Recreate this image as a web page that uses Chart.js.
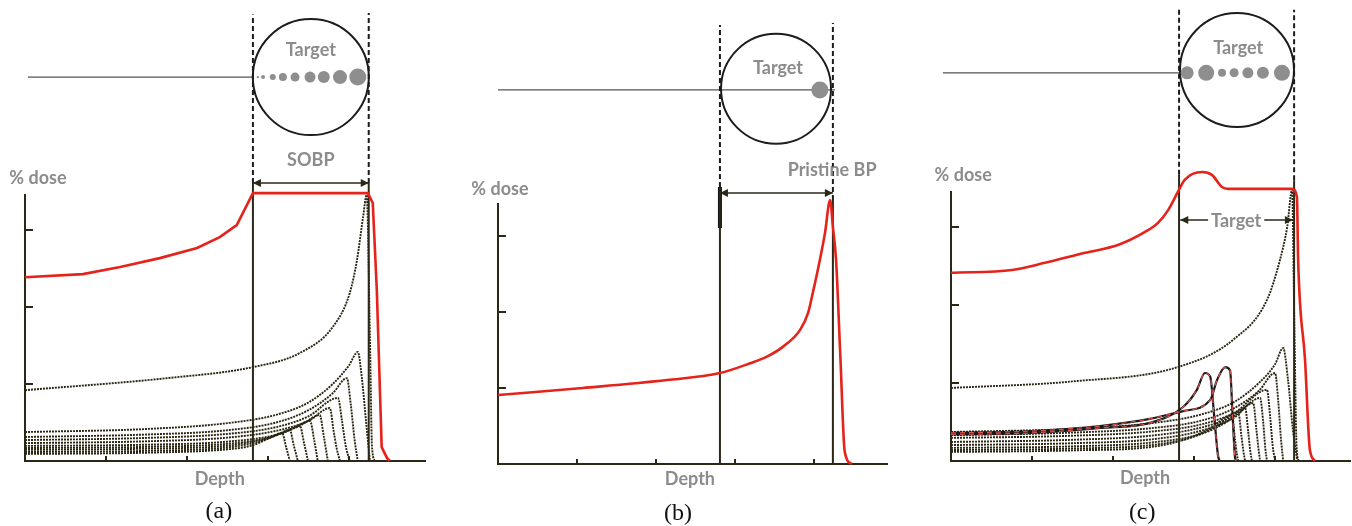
<!DOCTYPE html>
<html lang="en">
<head>
<meta charset="UTF-8">
<title>SOBP vs pristine Bragg peak</title>
<script src="https://cdn.jsdelivr.net/npm/chart.js"></script>
<style>
  body { margin: 0; background: #fff; }
  canvas.panel { position: absolute; top: 0; }
</style>
</head>
<body>
<canvas id="chartA" class="panel" width="450" height="526" style="left:0px"></canvas>
<canvas id="chartB" class="panel" width="450" height="526" style="left:450px"></canvas>
<canvas id="chartC" class="panel" width="452" height="526" style="left:900px"></canvas>
<script>
// shared axis ticks (depth / % dose, arbitrary units)
const xTicks = [0, 20, 40, 60, 80];
const yTicks = [0, 25, 50, 75];

// ---- panel (a): SOBP ----
const redA = [[0,59.7],[14.3,60.7],[23.5,63],[33.3,65.9],[42.5,69.2],[48.1,72.7],[52.3,76.6],[56.3,87],[84.7,87],[85.9,83.8],[86.9,55.5],[88.1,4.5],[89.4,1],[90.1,0]];
const peaksA = [
  [[0,23],[35,26.9],[56.3,30.5],[67.9,35.1],[76,43.5],[80.2,54.5],[82,65.3],[83.5,79.2],[84.4,86.4],[85.2,40],[85.7,5],[86.4,0]],
  [[0,9.4],[30,10.4],[50,12.3],[62,15],[70,19],[76,25],[80,31],[82.2,35.4],[83.2,27],[84.3,12],[85.2,0]],
  [[0,7.8],[30,8.6],[50,10],[62,12.5],[70,16.5],[76,22],[79.5,26.9],[80.5,18],[81.4,7],[82.2,0]],
  [[0,6.8],[30,7.5],[50,8.8],[62,11],[70,14.5],[77.3,20.5],[78.3,13],[79.2,5],[80.2,0]],
  [[0,5.8],[30,6.4],[50,7.6],[62,9.8],[70,13],[75.3,17.2],[76.2,10],[77,4],[77.8,0]],
  [[0,4.9],[30,5.3],[50,6.3],[62,8.5],[68,11.5],[72.8,14.9],[73.8,8],[74.8,0]],
  [[0,4.2],[30,4.6],[50,5.6],[60,7.5],[66,10.5],[70.4,13],[71.4,7],[72.3,0]],
  [[0,3.6],[30,4],[50,5],[58,6.8],[64,9.3],[67.9,11.4],[68.9,6],[69.9,0]],
  [[0,2.9],[30,3.3],[50,4.4],[57,6],[62,8.3],[65.4,10.1],[66.4,5],[67.4,0]],
  [[0,2.3],[30,2.7],[50,3.8],[56,5],[60,7.2],[63.5,9.1],[64.5,4.5],[65.4,0]]
];
const targetA = [56.3, 84.9];
const spotDepthA = [57.5, 58.8, 61.2, 63.7, 66.7, 70.4, 73.8, 77.8, 82.2];
const spotWeightA = [1.2, 2, 3, 4, 4.5, 5.5, 6, 7, 8.5];

// ---- panel (b): pristine Bragg peak ----
const redB = [[0,22.7],[21.5,25],[42.8,27.6],[56.2,29.9],[63.8,33.1],[68.1,35.3],[72.2,38.6],[76.5,44.1],[78.5,49.6],[79.7,56.2],[81.5,67.1],[82.8,76],[84.1,86.8],[84.8,78],[85.6,67.1],[86.7,35],[87.8,4],[89.6,0]];
const targetB = [56.2, 84.8];
const spotDepthB = [81.5];
const spotWeightB = [8.5];

// ---- panel (c): SOBP with modified spots ----
const redC = [[0,60.3],[15.1,61.2],[23.2,63.5],[33.1,66.7],[41.2,69.2],[47.9,73.4],[51.1,76.3],[53.6,80.4],[56,86.2],[57.7,90.1],[62,92.6],[64.4,91.7],[66.9,87.8],[68.4,87.2],[84.2,87.2],[85.4,84.6],[85.7,64.4],[87.4,32.4],[88.6,3.5],[89.9,0]];
const peaksC = [
  [[0,23.4],[30,25.5],[56,30.1],[69.6,38.8],[78,51.6],[81.2,64.4],[83,75],[84.2,86.9],[84.8,40],[85.3,5],[85.8,0]],
  [[0,9.3],[30,10.3],[50,12.2],[62,15],[70,19],[76,25],[80,31],[82,36.2],[83.2,26],[84.4,10],[85.5,0]],
  [[0,8.3],[30,9.1],[50,10.6],[62,13],[70,17],[76,22.5],[80,28.2],[80.8,19],[81.4,8],[82,0]],
  [[0,7.4],[30,8.1],[50,9.5],[62,11.8],[70,15.5],[78,22.8],[78.8,14],[79.4,5],[80,0]],
  [[0,6.1],[30,6.8],[50,8.2],[62,10.8],[70,14.5],[76.3,20.2],[77.1,12],[77.6,4],[78,0]],
  [[0,5.1],[30,5.7],[50,7],[62,9.8],[70,14],[74.6,18.6],[75.4,10],[75.9,4],[76.3,0]],
  [[0,4.2],[30,4.7],[50,6],[62,8.8],[68,12.5],[72.6,17],[73.4,9],[73.9,3],[74.3,0]],
  [[0,3.5],[30,4],[50,5.2],[60,7.8],[66,11.5],[70.9,15.7],[71.7,8],[72.2,3],[72.6,0]],
  [[0,2.9],[30,3.4],[50,4.6],[58,7],[64,10.5],[69.4,14.7],[70.1,7],[70.6,2],[70.9,0]]
];
const modifiedC = [
  [[0,8.5],[20,9],[36.8,10.6],[49.1,12.2],[57.3,17.3],[60.7,22.8],[62.7,28.2],[64,27],[65,14],[65.9,1.9],[66.3,0]],
  [[0,9],[20,9.6],[36.8,11.2],[49.1,13.5],[57.3,16],[64,19.6],[65.7,26],[67.7,30.1],[68.9,29],[69.5,15],[70.1,1.3],[70.4,0]]
];
const targetC = [56.3, 84.7];
const spotDepthC = [58.3, 63, 66.9, 69.9, 73.3, 77, 81.7];
const spotWeightC = [6.5, 8, 4, 4.5, 5.5, 6, 8];

// ---- styling and helpers ----
const INK = '#2b2818';
const RED = '#e5231b';
const GREY = '#8c8c8c';
const LABEL_FONT = 'bold 18px Lato, "Open Sans", sans-serif';
const CAPTION_FONT = '24px "Liberation Serif", "DejaVu Serif", serif';

const pts = arr => arr.map(([x, y]) => ({x, y}));
const seg = (x, y0, y1) => [{x, y: y0}, {x, y: y1}];

function curve(data, color, width, extra) {
  return Object.assign({
    data: pts(data), borderColor: color, borderWidth: width, pointRadius: 0,
    cubicInterpolationMode: 'monotone', fill: false, clip: false
  }, extra || {});
}
function straight(data, color, width, dash, order) {
  return { data, borderColor: color, borderWidth: width, borderDash: dash || [], pointRadius: 0,
    tension: 0, fill: false, clip: false, order };
}
function dotted(data) {
  return curve(data, '#2a2612', 1.9, { borderDash: [2, 1], order: 3 });
}
// points above the plot area: chart.js skips them, the plugin draws them
function spots(xs, ws, yBeam) {
  return { data: xs.map(x => ({x, y: yBeam})), showLine: false, pointRadius: ws,
    pointBackgroundColor: '#8e8e8e', pointBorderWidth: 0, clip: false, order: 4, offArea: true };
}
function ring(x, y, r) {
  return { data: [{x, y}], showLine: false, pointRadius: r, pointBorderColor: '#1c1c1c',
    pointBackgroundColor: 'rgba(0,0,0,0)', pointBorderWidth: 2, clip: false, order: 5, offArea: true };
}

function scalesFor(xMax, yMax) {
  const common = {
    type: 'linear', ticks: { display: false },
    border: { display: true, color: INK, width: 2 },
    grid: { drawOnChartArea: false, drawTicks: true, tickColor: INK, lineWidth: 2 }
  };
  return {
    x: Object.assign({}, common, { min: 0, max: xMax,
      grid: Object.assign({}, common.grid, { tickLength: -5 }),
      afterBuildTicks: s => { s.ticks = xTicks.map(v => ({value: v})); },
      afterFit: s => { s.height = 0; } }),
    y: Object.assign({}, common, { min: 0, max: yMax,
      grid: Object.assign({}, common.grid, { tickLength: -8 }),
      afterBuildTicks: s => { s.ticks = yTicks.map(v => ({value: v})); },
      afterFit: s => { s.width = 0; } })
  };
}

// text and double arrows, positioned through the chart scales
const annotate = {
  id: 'annotate',
  afterDatasetsDraw(chart, args, opts) {
    const {ctx} = chart;
    const sx = chart.scales.x, sy = chart.scales.y;
    ctx.save();
    chart.data.datasets.forEach((ds, i) => {
      if (ds.offArea) chart.getDatasetMeta(i).data.forEach(el => el.draw(ctx));
    });
    ctx.textAlign = 'center';
    ctx.textBaseline = 'middle';
    (opts.arrows || []).forEach(a => {
      const x1 = sx.getPixelForValue(a.x1), x2 = sx.getPixelForValue(a.x2), y = sy.getPixelForValue(a.y);
      ctx.strokeStyle = INK; ctx.fillStyle = INK; ctx.lineWidth = 1.5;
      ctx.setLineDash([]);
      ctx.beginPath();
      if (a.text) {
        ctx.font = LABEL_FONT;
        const cx = sx.getPixelForValue(a.tx), w = ctx.measureText(a.text).width / 2 + 3;
        ctx.moveTo(x1, y); ctx.lineTo(cx - w, y);
        ctx.moveTo(cx + w, y); ctx.lineTo(x2, y);
      } else {
        ctx.moveTo(x1, y); ctx.lineTo(x2, y);
      }
      ctx.stroke();
      [[x1, 1], [x2, -1]].forEach(([px, d]) => {
        ctx.beginPath();
        ctx.moveTo(px, y); ctx.lineTo(px + d * 8, y - 4); ctx.lineTo(px + d * 8, y + 4);
        ctx.closePath(); ctx.fill();
      });
      if (a.text) {
        ctx.fillStyle = GREY;
        ctx.fillText(a.text, sx.getPixelForValue(a.tx), y + 1);
      }
    });
    (opts.labels || []).forEach(l => {
      ctx.font = l.font || LABEL_FONT;
      ctx.fillStyle = l.color || GREY;
      ctx.fillText(l.text, sx.getPixelForValue(l.x), sy.getPixelForValue(l.y));
    });
    ctx.restore();
  }
};

function makeChart(id, datasets, xMax, yMax, padding, notes) {
  return new Chart(document.getElementById(id), {
    type: 'line',
    data: { datasets },
    options: {
      responsive: false, animation: false, devicePixelRatio: 1,
      layout: { padding, autoPadding: false },
      scales: scalesFor(xMax, yMax),
      plugins: { legend: { display: false }, tooltip: { enabled: false }, annotate: notes }
    },
    plugins: [annotate]
  });
}

// ---- panel (a) ----
makeChart('chartA', [
  straight(pts(redA), RED, 2.6, null, 0),
  straight(seg(targetA[0], 0, 90.3), INK, 2, null, 2),
  straight(seg(targetA[1], 0, 90.3), INK, 2, null, 2),
  straight(seg(targetA[0], 90.3, 145), '#1c1c1c', 2, [5, 3], 2),
  straight(seg(targetA[1], 90.3, 145.5), '#1c1c1c', 2, [5, 3], 2),
  straight([{x: 0.7, y: 124.7}, {x: targetA[0], y: 124.7}], '#555', 1.2, null, 4),
  ring(70.6, 124.7, 58),
  spots(spotDepthA, spotWeightA, 124.7)
].concat(peaksA.map(dotted)), 98.8, 86.4, {left: 25, right: 25, top: 195, bottom: 65}, {
  arrows: [{x1: targetA[0], x2: targetA[1], y: 90.3}],
  labels: [
    {text: 'Target', x: 70.6, y: 133.4},
    {text: 'SOBP', x: 70.6, y: 97.7},
    {text: '% dose', x: 3.2, y: 91.9},
    {text: 'Depth', x: 48.1, y: -5.8},
    {text: '(a)', x: 47.9, y: -16.6, font: CAPTION_FONT, color: '#111'}
  ]
});

// ---- panel (b) ----
makeChart('chartB', [
  curve(redB, RED, 2.6, { order: 0 }),
  straight(seg(targetB[0], 0, 91.1), INK, 2, null, 2),
  straight(seg(targetB[0], 77.6, 91.1), '#111', 4, null, 2),
  straight(seg(targetB[1], 0, 86.8), INK, 2, null, 2),
  straight(seg(targetB[0], 91.1, 144.4), '#1c1c1c', 2, [5, 3], 2),
  straight(seg(targetB[1], 86.8, 145), '#1c1c1c', 2, [5, 3], 2),
  straight([{x: 0, y: 123}, {x: 85.3, y: 123}], '#555', 1.2, null, 4),
  ring(70.4, 123.4, 55),
  spots(spotDepthB, spotWeightB, 123)
], 98.5, 85.5, {left: 48, right: 13, top: 204, bottom: 62}, {
  arrows: [{x1: targetB[0], x2: targetB[1], y: 89.1}],
  labels: [
    {text: 'Target', x: 70.9, y: 130.3},
    {text: 'Pristine BP', x: 84.6, y: 96.7},
    {text: '% dose', x: 0.5, y: 90.5},
    {text: 'Depth', x: 48.6, y: -4.9},
    {text: '(b)', x: 45.6, y: -16.4, font: CAPTION_FONT, color: '#111'}
  ]
});

// ---- panel (c) ----
makeChart('chartC', [
  curve(redC, RED, 2.6, { order: 0 }),
  curve(modifiedC[0], '#1a1a1a', 2.2, { order: 1 }),
  curve(modifiedC[1], '#1a1a1a', 2.2, { order: 1 }),
  curve(modifiedC[0], '#d9534f', 1.2, { order: 0.5, borderDash: [5, 4] }),
  curve(modifiedC[1], '#d9534f', 1.2, { order: 0.5, borderDash: [5, 4] }),
  straight(seg(targetC[0], 0, 91.7), INK, 2, null, 2),
  straight(seg(targetC[1], 0, 90), INK, 2, null, 2),
  straight(seg(targetC[0], 91.7, 144.6), '#1c1c1c', 2, [5, 3], 2),
  straight(seg(targetC[1], 90, 144.6), '#1c1c1c', 2, [5, 3], 2),
  straight([{x: -2, y: 124.4}, {x: 57.3, y: 124.4}], '#555', 1.2, null, 4),
  ring(70.6, 125.3, 57),
  spots(spotDepthC, spotWeightC, 124.4)
].concat(peaksC.map(dotted)), 98.5, 86.2, {left: 51, right: 2, top: 192, bottom: 65}, {
  arrows: [{x1: targetC[0] + 0.3, x2: targetC[1] - 0.3, y: 77.2, text: 'Target', tx: 70.4}],
  labels: [
    {text: 'Target', x: 70.9, y: 132.4},
    {text: '% dose', x: 3, y: 91.7},
    {text: 'Depth', x: 47.9, y: -5.4},
    {text: '(c)', x: 47.2, y: -16.7, font: CAPTION_FONT, color: '#111'}
  ]
});
</script>
</body>
</html>
